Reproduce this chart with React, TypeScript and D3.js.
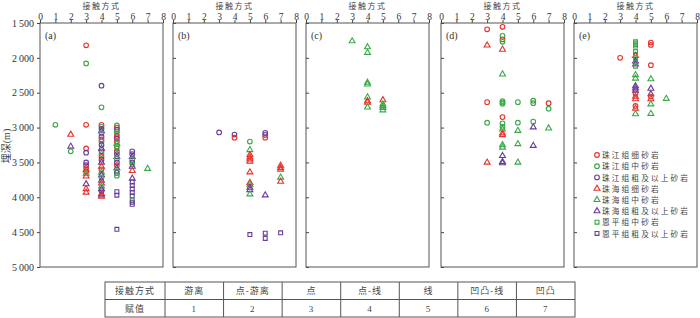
import React, { useEffect, useRef } from 'react';
import * as d3 from 'd3';

// series: 0 珠江组细砂岩, 1 珠江组中砂岩, 2 珠江组粗及以上砂岩, 3 珠海组细砂岩,
// 4 珠海组中砂岩, 5 珠海组粗及以上砂岩, 6 恩平组中砂岩, 7 恩平组粗及以上砂岩
const seriesNames = [
  '珠江组细砂岩', '珠江组中砂岩', '珠江组粗及以上砂岩', '珠海组细砂岩',
  '珠海组中砂岩', '珠海组粗及以上砂岩', '恩平组中砂岩', '恩平组粗及以上砂岩',
];
const seriesColors = ['#e6332a', '#3aa846', '#6a3d9a', '#e6332a', '#3aa846', '#6a3d9a', '#3aa846', '#6a3d9a'];
const seriesShapes = ['circle', 'circle', 'circle', 'triangle', 'triangle', 'triangle', 'square', 'square'];

const panelLabels = ['(a)', '(b)', '(c)', '(d)', '(e)'];
const xTicks = [0, 1, 2, 3, 4, 5, 6, 7, 8];
const yTicks = [1500, 2000, 2500, 3000, 3500, 4000, 4500, 5000];

const tableHeader = ['接触方式', '游离', '点-游离', '点', '点-线', '线', '凹凸-线', '凹凸'];
const tableValues = ['赋值', '1', '2', '3', '4', '5', '6', '7'];

// [series, contact value, depth m]
const panelA: [number, number, number][] = [
  [1, 1, 2960],
  [3, 2, 3100], [5, 2, 3270], [1, 2, 3340],
  [0, 3, 1820], [1, 3, 2080], [0, 3, 2960], [0, 3, 3300], [2, 3, 3360], [2, 3, 3500],
  [2, 3, 3540], [0, 3, 3580], [3, 3, 3610], [0, 3, 3630], [4, 3, 3660], [3, 3, 3700],
  [5, 3, 3810], [3, 3, 3880], [3, 3, 3930],
  [2, 4, 2400], [1, 4, 2710], [0, 4, 2960], [1, 4, 2990], [2, 4, 3020], [5, 4, 3050],
  [1, 4, 3080], [2, 4, 3130], [0, 4, 3170], [1, 4, 3200], [2, 4, 3250], [5, 4, 3300],
  [2, 4, 3340], [1, 4, 3380], [0, 4, 3420], [2, 4, 3460], [5, 4, 3500], [3, 4, 3560],
  [0, 4, 3600], [4, 4, 3640], [5, 4, 3680], [1, 4, 3720], [5, 4, 3760], [3, 4, 3800],
  [4, 4, 3840], [5, 4, 3880], [2, 4, 3910], [3, 4, 3950], [5, 4, 3970], [3, 4, 3990],
  [1, 5, 2970], [0, 5, 3000], [2, 5, 3030], [1, 5, 3060], [6, 5, 3090], [0, 5, 3120],
  [2, 5, 3160], [0, 5, 3200], [4, 5, 3230], [1, 5, 3270], [6, 5, 3300], [0, 5, 3340],
  [2, 5, 3380], [5, 5, 3420], [1, 5, 3450], [2, 5, 3500], [0, 5, 3540], [5, 5, 3580],
  [6, 5, 3620], [2, 5, 3650], [1, 5, 3690], [7, 5, 3920], [7, 5, 3970], [7, 5, 4460],
  [2, 6, 3340], [2, 6, 3380], [5, 6, 3420], [1, 6, 3460], [2, 6, 3500], [6, 6, 3530],
  [5, 6, 3560], [3, 6, 3620], [5, 6, 3730], [7, 6, 3780], [7, 6, 3830], [7, 6, 3880],
  [7, 6, 3930], [7, 6, 3980], [6, 6, 4040], [7, 6, 4070], [7, 6, 4100],
  [4, 7, 3590],
];

const panelB: [number, number, number][] = [
  [2, 3, 3070],
  [2, 4, 3100], [0, 4, 3145],
  [1, 5, 3200], [4, 5, 3320], [3, 5, 3390], [3, 5, 3425], [3, 5, 3455], [3, 5, 3485],
  [3, 5, 3640], [3, 5, 3790], [4, 5, 3815], [5, 5, 3860], [5, 5, 3895], [4, 5, 3955],
  [7, 5, 4535],
  [2, 6, 3075], [2, 6, 3105], [0, 6, 3145], [5, 6, 3970], [7, 6, 4515], [7, 6, 4590],
  [3, 7, 3545], [3, 7, 3575], [3, 7, 3600], [4, 7, 3715], [3, 7, 3775], [7, 7, 4510],
];

const panelC: [number, number, number][] = [
  [4, 3, 1760],
  [4, 4, 1845], [4, 4, 1925], [4, 4, 2355], [4, 4, 2380], [4, 4, 2565], [3, 4, 2620],
  [3, 4, 2640], [4, 4, 2710],
  [3, 5, 2605], [4, 5, 2665], [4, 5, 2690], [4, 5, 2715], [4, 5, 2750],
];

const panelD: [number, number, number][] = [
  [0, 3, 1590], [3, 3, 1820], [0, 3, 2635], [1, 3, 2930], [3, 3, 3500],
  [0, 4, 1555], [1, 4, 1685], [0, 4, 1735], [1, 4, 1770], [3, 4, 1880], [4, 4, 2235],
  [1, 4, 2620], [1, 4, 2640], [1, 4, 2660], [0, 4, 2850], [1, 4, 2940], [1, 4, 2990],
  [4, 4, 3025], [3, 4, 3080], [3, 4, 3105], [4, 4, 3250], [4, 4, 3285], [5, 4, 3405],
  [5, 4, 3490], [5, 4, 3510],
  [1, 5, 2635], [1, 5, 2930], [4, 5, 3045], [4, 5, 3235], [4, 5, 3500],
  [1, 6, 2615], [1, 6, 2650], [1, 6, 2915], [5, 6, 2995], [5, 6, 3260],
  [0, 7, 2650], [1, 7, 2730], [4, 7, 3010],
];

const panelE: [number, number, number][] = [
  [0, 3, 2000],
  [6, 4, 1770], [6, 4, 1790], [6, 4, 1810], [6, 4, 1830], [6, 4, 1910], [6, 4, 1950],
  [3, 4, 1970], [6, 4, 1990], [6, 4, 2030], [5, 4, 2050], [6, 4, 2070], [5, 4, 2090],
  [6, 4, 2120], [4, 4, 2245], [4, 4, 2295], [5, 4, 2405], [5, 4, 2435], [5, 4, 2470],
  [0, 4, 2510], [3, 4, 2555], [3, 4, 2590], [0, 4, 2690], [3, 4, 2725], [4, 4, 2805],
  [0, 5, 1780], [0, 5, 1815], [0, 5, 2105], [4, 5, 2305], [5, 5, 2440], [5, 5, 2520],
  [0, 5, 2555], [3, 5, 2590], [4, 5, 2665], [4, 5, 2800],
  [4, 6, 2585],
];

const panels = [panelA, panelB, panelC, panelD, panelE];

const App = () => {
  const svgRef = useRef<SVGSVGElement>(null);

  useEffect(() => {
    const svg = d3.select(svgRef.current);
    svg.selectAll('*').remove();

    const width = 700;
    const height = 318;
    const panelLeft = [40, 173, 306, 441, 574];
    const panelW = 123;
    const top = 23;
    const bottom = 267;
    const serif = "'Liberation Serif', 'Noto Sans CJK SC', serif";
    const cjk = "'Noto Sans CJK SC', sans-serif";
    const ink = '#444';

    svg.attr('width', width).attr('height', height);

    const y = d3.scaleLinear().domain([1500, 5000]).range([top, bottom]);

    const symbolFor = (shape: string) => {
      if (shape === 'circle') return d3.symbol().type(d3.symbolCircle).size(17)();
      if (shape === 'triangle') return d3.symbol().type(d3.symbolTriangle).size(15)();
      return d3.symbol().type(d3.symbolSquare).size(15)();
    };

    panels.forEach((pts, i) => {
      const x0 = panelLeft[i];
      const x = d3.scaleLinear().domain([0, 8]).range([x0, x0 + panelW]);
      const g = svg.append('g');

      // title
      g.append('text')
        .attr('x', x0 + panelW / 2).attr('y', 9.4)
        .attr('text-anchor', 'middle')
        .attr('font-family', cjk).attr('font-size', 8).attr('letter-spacing', 1.5)
        .attr('fill', ink)
        .text('接触方式');

      // top axis
      g.append('g')
        .attr('transform', `translate(0,${top})`)
        .call(d3.axisTop(x).tickValues(xTicks).tickSize(3).tickPadding(0).tickSizeOuter(0))
        .call(a => a.select('.domain').remove())
        .call(a => a.selectAll('line').attr('stroke', ink))
        .call(a => a.selectAll('text').attr('font-family', serif).attr('font-size', 9.5).attr('fill', '#333'));

      // left axis
      if (i === 0) {
        g.append('g')
          .attr('transform', `translate(${x0},0)`)
          .call(d3.axisLeft(y).tickValues(yTicks).tickSize(3).tickPadding(3)
            .tickFormat(d => d3.format(',')(d as number).replace(',', '\u2009')))
          .call(a => a.select('.domain').remove())
          .call(a => a.selectAll('line').attr('stroke', ink))
          .call(a => a.selectAll('text').attr('font-family', serif).attr('font-size', 10).attr('fill', '#333'));
      } else {
        g.append('g')
          .attr('transform', `translate(${x0},0)`)
          .call(d3.axisRight(y).tickValues(yTicks).tickSize(3).tickFormat(() => ''))
          .call(a => a.select('.domain').remove())
          .call(a => a.selectAll('line').attr('stroke', ink));
      }

      // frame
      g.append('rect')
        .attr('x', x0).attr('y', top)
        .attr('width', panelW).attr('height', bottom - top)
        .attr('fill', 'none').attr('stroke', '#555').attr('stroke-width', 1);

      g.append('text')
        .attr('x', x0 + 5).attr('y', top + 16)
        .attr('font-family', serif).attr('font-size', 10).attr('fill', '#333')
        .text(panelLabels[i]);

      g.append('g')
        .selectAll('path')
        .data(pts)
        .enter()
        .append('path')
        .attr('d', d => symbolFor(seriesShapes[d[0]]))
        .attr('transform', d => `translate(${x(d[1])},${y(d[2])})`)
        .attr('fill', 'none')
        .attr('stroke', d => seriesColors[d[0]])
        .attr('stroke-width', 1.1);
    });

    // y label
    svg.append('text')
      .attr('transform', 'translate(10,146) rotate(-90)')
      .attr('text-anchor', 'middle')
      .attr('font-family', serif).attr('font-size', 10).attr('fill', ink)
      .text('埋深(m)');

    // legend in panel (e)
    const legend = svg.append('g').attr('transform', 'translate(597,155)');
    seriesNames.forEach((name, i) => {
      const row = legend.append('g').attr('transform', `translate(0,${i * 11.2})`);
      row.append('path')
        .attr('d', symbolFor(seriesShapes[i]))
        .attr('fill', 'none')
        .attr('stroke', seriesColors[i])
        .attr('stroke-width', 1.1);
      row.append('text')
        .attr('x', 5).attr('y', 3.2)
        .attr('font-family', cjk).attr('font-size', 7.7).attr('letter-spacing', 2.1)
        .attr('fill', ink)
        .text(name);
    });

    // table
    const tLeft = 105;
    const tRight = 575;
    const tTop = 282;
    const rowH = 17.5;
    const firstW = 60;
    const colW = (tRight - tLeft - firstW) / 7;
    const colX = [tLeft, ...d3.range(8).map(k => tLeft + firstW + k * colW)];
    const table = svg.append('g');
    table.append('rect')
      .attr('x', tLeft).attr('y', tTop)
      .attr('width', tRight - tLeft).attr('height', rowH * 2)
      .attr('fill', 'none').attr('stroke', '#555');
    table.append('line')
      .attr('x1', tLeft).attr('x2', tRight)
      .attr('y1', tTop + rowH).attr('y2', tTop + rowH)
      .attr('stroke', '#555');
    colX.slice(1, 8).forEach(cx => {
      table.append('line')
        .attr('x1', cx).attr('x2', cx)
        .attr('y1', tTop).attr('y2', tTop + rowH * 2)
        .attr('stroke', '#555');
    });
    [tableHeader, tableValues].forEach((row, r) => {
      row.forEach((txt, c) => {
        table.append('text')
          .attr('x', (colX[c] + colX[c + 1]) / 2)
          .attr('y', tTop + rowH * r + rowH / 2 + 3.5)
          .attr('text-anchor', 'middle')
          .attr('font-family', serif).attr('font-size', 9).attr('letter-spacing', 1)
          .attr('fill', ink)
          .text(txt);
      });
    });
  }, []);

  return <svg ref={svgRef} style={{ position: 'absolute', left: 0, top: 0 }}></svg>;
};

export default App;
